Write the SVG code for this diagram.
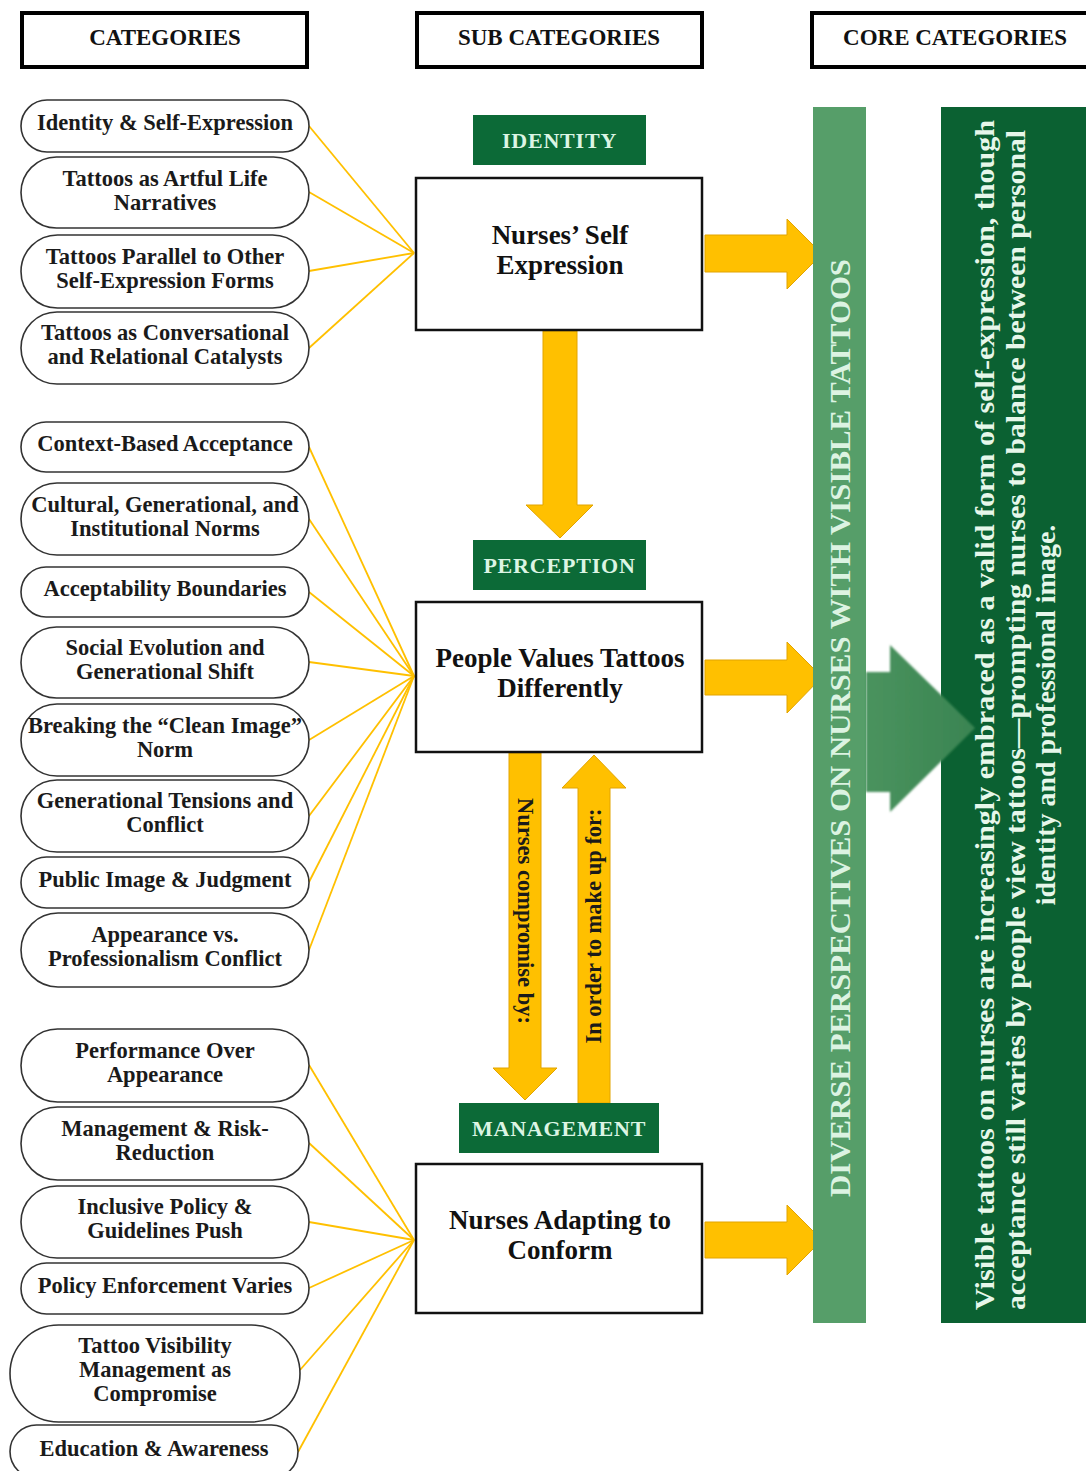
<svg xmlns="http://www.w3.org/2000/svg" width="1086" height="1471" viewBox="0 0 1086 1471">
  <defs>
    <style>
      .hdr rect { fill: #fff; stroke: #000; stroke-width: 4; }
      .ht { font: bold 23px "Liberation Serif", serif; fill: #111; text-anchor: middle; }
      .pill rect { fill: #fff; stroke: #333; stroke-width: 1.6; }
      .pt { font: bold 22.5px "Liberation Serif", serif; fill: #1a1a1a; text-anchor: middle; }
      .lab rect { fill: #0c6a37; }
      .lt { font: bold 22px "Liberation Serif", serif; fill: #dcf5e4; text-anchor: middle; letter-spacing: 0.8px; }
      .box rect { fill: #fff; stroke: #111; stroke-width: 2.5; }
      .bt { font: bold 27px "Liberation Serif", serif; fill: #111; text-anchor: middle; }
      .conn line { stroke: #FFC000; stroke-width: 1.8; }
      .ya { fill: #FFC000; stroke: #E2A400; stroke-width: 1; }
      .at { font: bold 22.5px "Liberation Serif", serif; fill: #1a1a1a; text-anchor: middle; }
      .bar { font: bold 30px "Liberation Serif", serif; fill: #dcf3e2; text-anchor: middle; }
      .core { font: bold 28px "Liberation Serif", serif; fill: #e6f7ea; }
    </style>
    <linearGradient id="bigArrowFill" x1="0" y1="0" x2="1" y2="0">
      <stop offset="0" stop-color="#4a935e"/>
      <stop offset="1" stop-color="#3a8452"/>
    </linearGradient>
    <filter id="soft" x="-10%" y="-10%" width="120%" height="120%">
      <feGaussianBlur stdDeviation="1"/>
    </filter>
  </defs>

  <rect width="1086" height="1471" fill="#fff"/>

  <!-- column headers -->
  <g id="hdr-categories" class="hdr"><rect x="22" y="13" width="285" height="54"/><text class="ht" x="165" y="45">CATEGORIES</text></g>
  <g id="hdr-sub" class="hdr"><rect x="417" y="13" width="285" height="54"/><text class="ht" x="559" y="45">SUB CATEGORIES</text></g>
  <g id="hdr-core" class="hdr"><rect x="812" y="13" width="290" height="54"/><text class="ht" x="955" y="45">CORE CATEGORIES</text></g>

  <!-- connectors from categories to sub categories -->
  <g id="connectors" class="conn">
    <line x1="309" y1="126" x2="414" y2="253"/>
    <line x1="309" y1="192" x2="414" y2="253"/>
    <line x1="309" y1="271" x2="414" y2="253"/>
    <line x1="309" y1="348" x2="414" y2="253"/>

    <line x1="309" y1="447" x2="414" y2="676"/>
    <line x1="309" y1="519" x2="414" y2="676"/>
    <line x1="309" y1="592" x2="414" y2="676"/>
    <line x1="309" y1="662" x2="414" y2="676"/>
    <line x1="309" y1="740" x2="414" y2="676"/>
    <line x1="309" y1="816" x2="414" y2="676"/>
    <line x1="309" y1="882" x2="414" y2="676"/>
    <line x1="309" y1="950" x2="414" y2="676"/>

    <line x1="309" y1="1065" x2="414" y2="1240"/>
    <line x1="309" y1="1143" x2="414" y2="1240"/>
    <line x1="309" y1="1222" x2="414" y2="1240"/>
    <line x1="309" y1="1288" x2="414" y2="1240"/>
    <line x1="300" y1="1370" x2="414" y2="1240"/>
    <line x1="298" y1="1452" x2="414" y2="1240"/>
  </g>

  <!-- categories: identity group -->
  <g id="cat-identity-self-expression" class="pill"><rect x="21" y="100" width="288" height="52" rx="26"/><text class="pt" x="165" y="130">Identity &amp; Self-Expression</text></g>
  <g id="cat-artful-life" class="pill"><rect x="21" y="157" width="288" height="71" rx="35.5"/><text class="pt" x="165" y="186">Tattoos as Artful Life</text><text class="pt" x="165" y="210">Narratives</text></g>
  <g id="cat-parallel" class="pill"><rect x="21" y="235" width="288" height="73" rx="36.5"/><text class="pt" x="165" y="264">Tattoos Parallel to Other</text><text class="pt" x="165" y="288">Self-Expression Forms</text></g>
  <g id="cat-conversational" class="pill"><rect x="21" y="312" width="288" height="72" rx="36"/><text class="pt" x="165" y="340">Tattoos as Conversational</text><text class="pt" x="165" y="364">and Relational Catalysts</text></g>

  <!-- categories: perception group -->
  <g id="cat-context" class="pill"><rect x="21" y="422" width="288" height="50" rx="25"/><text class="pt" x="165" y="451">Context-Based Acceptance</text></g>
  <g id="cat-norms" class="pill"><rect x="21" y="483" width="288" height="72" rx="36"/><text class="pt" x="165" y="512">Cultural, Generational, and</text><text class="pt" x="165" y="536">Institutional Norms</text></g>
  <g id="cat-boundaries" class="pill"><rect x="21" y="567" width="288" height="50" rx="25"/><text class="pt" x="165" y="596">Acceptability Boundaries</text></g>
  <g id="cat-social-evolution" class="pill"><rect x="21" y="627" width="288" height="71" rx="35.5"/><text class="pt" x="165" y="655">Social Evolution and</text><text class="pt" x="165" y="679">Generational Shift</text></g>
  <g id="cat-clean-image" class="pill"><rect x="21" y="704" width="288" height="72" rx="36"/><text class="pt" x="165" y="733">Breaking the “Clean Image”</text><text class="pt" x="165" y="757">Norm</text></g>
  <g id="cat-generational-tensions" class="pill"><rect x="21" y="780" width="288" height="72" rx="36"/><text class="pt" x="165" y="808">Generational Tensions and</text><text class="pt" x="165" y="832">Conflict</text></g>
  <g id="cat-public-image" class="pill"><rect x="21" y="857" width="288" height="51" rx="25.5"/><text class="pt" x="165" y="887">Public Image &amp; Judgment</text></g>
  <g id="cat-appearance" class="pill"><rect x="21" y="913" width="288" height="74" rx="37"/><text class="pt" x="165" y="942">Appearance vs.</text><text class="pt" x="165" y="966">Professionalism Conflict</text></g>

  <!-- categories: management group -->
  <g id="cat-performance" class="pill"><rect x="21" y="1029" width="288" height="73" rx="36.5"/><text class="pt" x="165" y="1058">Performance Over</text><text class="pt" x="165" y="1082">Appearance</text></g>
  <g id="cat-risk-reduction" class="pill"><rect x="21" y="1107" width="288" height="73" rx="36.5"/><text class="pt" x="165" y="1136">Management &amp; Risk-</text><text class="pt" x="165" y="1160">Reduction</text></g>
  <g id="cat-inclusive-policy" class="pill"><rect x="21" y="1186" width="288" height="72" rx="36"/><text class="pt" x="165" y="1214">Inclusive Policy &amp;</text><text class="pt" x="165" y="1238">Guidelines Push</text></g>
  <g id="cat-enforcement" class="pill"><rect x="21" y="1263" width="288" height="51" rx="25.5"/><text class="pt" x="165" y="1293">Policy Enforcement Varies</text></g>
  <g id="cat-visibility" class="pill"><rect x="10" y="1325" width="290" height="97" rx="48.5"/><text class="pt" x="155" y="1353">Tattoo Visibility</text><text class="pt" x="155" y="1377">Management as</text><text class="pt" x="155" y="1401">Compromise</text></g>
  <g id="cat-education" class="pill"><rect x="10" y="1425" width="288" height="53" rx="26.5"/><text class="pt" x="154" y="1456">Education &amp; Awareness</text></g>

  <!-- yellow flow arrows -->
  <g id="flow-arrows">
    <polygon class="ya" points="705,235 787,235 787,219 822,254 787,289 787,272 705,272"/>
    <polygon class="ya" points="705,660 787,660 787,642 822,677 787,713 787,695 705,695"/>
    <polygon class="ya" points="705,1222 787,1222 787,1205 822,1240 787,1275 787,1258 705,1258"/>
    <polygon class="ya" points="543,331 577,331 577,505 593,505 560,538 526,505 543,505"/>
    <polygon class="ya" points="509,753 541,753 541,1068 557,1068 525,1100 493,1068 509,1068"/>
    <polygon class="ya" points="578,1103 610,1103 610,788 626,788 594,755 562,788 578,788"/>
    <text class="at" transform="translate(525,911) rotate(90)" y="7">Nurses compromise by:</text>
    <text class="at" transform="translate(594,926) rotate(-90)" y="7">In order to make up for:</text>
  </g>

  <!-- sub categories -->
  <g id="lab-identity" class="lab"><rect x="473" y="115" width="173" height="50"/><text class="lt" x="559.5" y="148">IDENTITY</text></g>
  <g id="sub-self-expression" class="box"><rect x="416" y="178" width="286" height="152"/><text class="bt" x="560" y="244">Nurses’ Self</text><text class="bt" x="560" y="274">Expression</text></g>

  <g id="lab-perception" class="lab"><rect x="473" y="540" width="173" height="50"/><text class="lt" x="559.5" y="573">PERCEPTION</text></g>
  <g id="sub-values" class="box"><rect x="416" y="602" width="286" height="150"/><text class="bt" x="560" y="667">People Values Tattoos</text><text class="bt" x="560" y="697">Differently</text></g>

  <g id="lab-management" class="lab"><rect x="459" y="1103" width="200" height="50"/><text class="lt" x="559" y="1136">MANAGEMENT</text></g>
  <g id="sub-adapting" class="box"><rect x="416" y="1164" width="286" height="149"/><text class="bt" x="560" y="1229">Nurses Adapting to</text><text class="bt" x="560" y="1259">Conform</text></g>

  <!-- core category bar -->
  <g id="core-bar">
    <rect x="813" y="107" width="53" height="1216" fill="#569e69"/>
    <text class="bar" transform="translate(840,728) rotate(-90)" y="10" textLength="938" lengthAdjust="spacingAndGlyphs">DIVERSE PERSPECTIVES ON NURSES WITH VISIBLE TATTOOS</text>
  </g>

  <!-- core statement -->
  <g id="core-statement">
    <rect x="941" y="107" width="145" height="1216" fill="#0b6132"/>
    <g class="core" transform="translate(994,716) rotate(-90)">
      <text x="-594" y="0" textLength="1190" lengthAdjust="spacingAndGlyphs">Visible tattoos on nurses are increasingly embraced as a valid form of self-expression, though</text>
      <text x="-594" y="30.5" textLength="1180" lengthAdjust="spacingAndGlyphs">acceptance still varies by people view tattoos—prompting nurses to balance between personal</text>
      <text x="1" y="61" text-anchor="middle">identity and professional image.</text>
    </g>
  </g>

  <!-- arrow from core bar to statement -->
  <g id="core-arrow">
    <polygon points="866,672 890,672 890,645 975,728 890,812 890,792 866,792" fill="url(#bigArrowFill)" filter="url(#soft)"/>
  </g>
</svg>
